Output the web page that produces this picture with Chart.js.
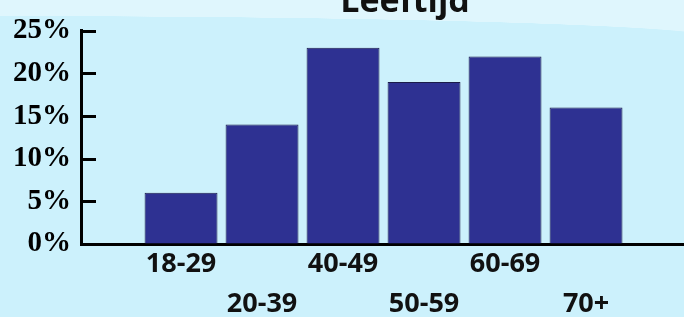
<!DOCTYPE html>
<html>
<head>
<meta charset="utf-8">
<script src="https://cdn.jsdelivr.net/npm/chart.js@4"></script>
<style>
	html, body {
		margin: 0;
		padding: 0;
		width: 684px;
		height: 317px;
		overflow: hidden;
		background:
			radial-gradient(ellipse 720px 22px at 0px 38px, rgba(223,246,253,0) 0%, rgba(223,246,253,0) 99%, #dff6fd 100%) 0 0 / 684px 40px no-repeat,
			#ccf1fc;
	}
	#chartBox {
		position: absolute;
		left: 0;
		top: -18px;
		width: 810px;
		height: 335px;
	}
</style>
</head>
<body>
<div id="chartBox"><canvas id="ageChart"></canvas></div>
<script>
/* 차트 데이터 */
const titleText = 'Leeftijd'
const categories = ['18-29', '20-39', '40-49', '50-59', '60-69', '70+']
const shares = [6, 14, 23, 19, 22, 16]
const yTicks = [0, 5, 10, 15, 20, 25]

/***************************** getElementById function *****************************/
function ById(id) {
	return document.getElementById(id);
}

/***************************** y축 안쪽 눈금 plugin *****************************/
const innerTicks = {
	id: 'innerTicks',
	afterDraw: function(chart) {
		let ys = chart.scales.y
		let ctx = chart.ctx
		let left = chart.chartArea.left
		ctx.save()
		ctx.strokeStyle = '#000'
		ctx.lineWidth = 3
		for (let t of ys.ticks) {
			let py = Math.round(ys.getPixelForValue(t.value)) + 0.5
			ctx.beginPath()
			ctx.moveTo(left - 1, py)
			ctx.lineTo(left + 15, py)
			ctx.stroke()
		}
		ctx.restore()
	}
}

/***************************** 연령 막대 차트 *****************************/
function ageChart() {

	// linear x축이라서 {x, y} 형태로 만든다
	let points = []
	for (let i = 0; i < categories.length; i++) {
		points.push({ x: i + 1, y: shares[i] })
	}

	var chartArea = ById('ageChart').getContext('2d');

	new Chart(chartArea, {
		type: 'bar',
		data: {
			datasets: [{
				label: titleText,
				data: points,
				backgroundColor: '#2e3192',
				borderColor: '#1b1c4a',
				borderWidth: 1,
				categoryPercentage: 1,
				barPercentage: 0.9
			}]
		},
		plugins: [innerTicks],
		options: {
			responsive: true,
			maintainAspectRatio: false,
			animation: false,
			layout: { padding: 0 },
			plugins: {
				legend: { display: false },
				tooltip: { enabled: false },
				title: {
					display: true,
					text: titleText,
					color: '#111',
					font: { family: 'Open Sans', size: 34, weight: 'bold', lineHeight: 1.2 },
					padding: { top: 0, bottom: 8 }
				}
			},
			scales: {
				x: {
					type: 'linear',
					min: -0.235,
					max: 8.765,
					offset: false,
					afterBuildTicks: function(scale) {
						scale.ticks = categories.map(function(c, i) { return { value: i + 1 } })
					},
					afterFit: function(scale) { scale.height = 73 },
					grid: { drawOnChartArea: false, drawTicks: false },
					border: { display: true, color: '#000', width: 3 },
					ticks: {
						autoSkip: false,
						maxRotation: 0,
						minRotation: 0,
						padding: 0,
						color: '#111',
						font: { family: 'Open Sans', size: 27, weight: 'bold', lineHeight: 1.48 },
						// 라벨을 두 줄로 엇갈리게
						callback: function(value) {
							let idx = value - 1
							let name = categories[idx]
							return idx % 2 === 0 ? [name] : ['', name]
						}
					}
				},
				y: {
					min: yTicks[0],
					max: yTicks[yTicks.length - 1],
					afterBuildTicks: function(scale) {
						scale.ticks = yTicks.map(function(v) { return { value: v } })
					},
					afterFit: function(scale) { scale.width = 81 },
					grid: { drawOnChartArea: false, drawTicks: false },
					border: { display: true, color: '#000', width: 3 },
					ticks: {
						padding: 10,
						color: '#000',
						font: { family: 'Liberation Serif', size: 29, weight: 'bold' },
						callback: function(value) { return value + '%' }
					}
				}
			}
		}
	})
}

ageChart()
</script>
</body>
</html>
